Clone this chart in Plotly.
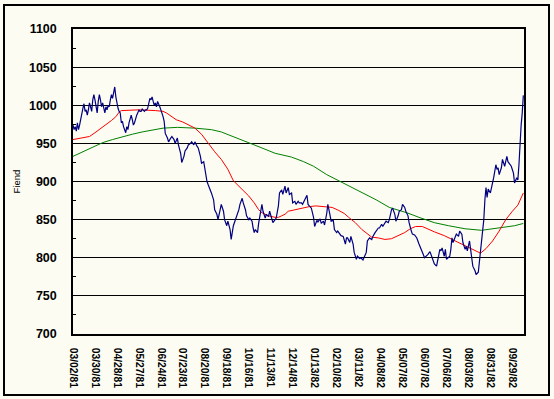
import plotly.graph_objects as go

# ---------------- data ----------------
tick_labels = ["03/02/81", "03/30/81", "04/28/81", "05/27/81", "06/24/81", "07/23/81",
               "08/20/81", "09/18/81", "10/16/81", "11/13/81", "12/14/81", "01/13/82",
               "02/10/82", "03/11/82", "04/08/82", "05/07/82", "06/07/82", "07/06/82",
               "08/03/82", "08/31/82", "09/29/82"]
tick_step = 20          # trading days between date labels
last_day = 410.6        # right edge of the plot, in trading days

blue_days = [0, 1, 2, 3, 4, 5, 6, 7, 8, 9, 10, 11, 12, 13, 14, 15, 16, 17, 18, 19, 20,
             21, 22, 23, 24, 25, 26, 27, 28, 29, 30, 31, 32, 33, 34, 35, 36, 37, 38, 39, 40,
             41, 42, 43, 44, 45, 46, 47, 48, 49, 50, 51, 52, 53, 54, 55, 56, 57, 58, 59, 60,
             61, 62, 63, 64, 65, 66, 67, 68, 69, 70, 71, 72, 73, 74, 75, 76, 77, 78, 79, 80,
             81, 82, 83, 84, 86, 87, 89, 90, 92, 93, 95, 96, 98, 99, 101, 102, 104, 105, 107,
             108, 110, 111, 113, 114, 116, 117, 119, 120, 122, 123, 125, 126, 128, 129, 131,
             132, 134, 135, 137, 138, 140, 141, 143, 144, 146, 148, 149, 151, 152, 154, 155,
             157, 158, 160, 161, 163, 164, 165, 166, 168, 169, 170, 172, 173, 175, 176, 178,
             179, 181, 182, 184, 185, 187, 188, 190, 191, 193, 194, 196, 197, 199, 200, 202,
             203, 205, 206, 208, 209, 211, 213, 214, 216, 217, 219, 220, 222, 223, 225, 226,
             228, 229, 231, 232, 234, 235, 237, 238, 240, 241, 243, 244, 246, 248, 249, 250,
             252, 253, 255, 256, 258, 259, 261, 262, 264, 265, 267, 268, 270, 272, 273, 275,
             276, 278, 279, 281, 282, 284, 285, 287, 288, 290, 291, 293, 294, 296, 297, 299,
             300, 302, 303, 305, 306, 308, 309, 311, 313, 315, 317, 319, 320, 322, 323, 325,
             326, 328, 329, 331, 332, 334, 335, 336, 338, 339, 340, 342, 343, 344, 345, 346,
             348, 349, 351, 352, 354, 355, 357, 358, 359, 360, 361, 362, 363, 364, 366, 367,
             369, 370, 371, 372, 374, 375, 376, 377, 378, 380, 381, 382, 383, 385, 386, 387,
             388, 390, 391, 393, 395, 396, 398, 399, 401, 402, 404, 405, 406, 407, 408, 409,
             410]
blue_vals = [974, 968, 972, 966, 977, 968, 974, 983, 990, 996, 1002, 992, 994, 987, 994,
             1003, 998, 992, 1007, 1014, 1007, 998, 990, 1005, 1014, 1007, 998, 1003, 996,
             990, 998, 994, 1000, 998, 1007, 1014, 1009, 1020, 1024, 1011, 1000, 996, 992,
             990, 977, 979, 972, 966, 964, 972, 968, 977, 981, 987, 981, 974, 977, 983, 987,
             990, 994, 992, 992, 995, 994, 992, 994, 994, 996, 1005, 1009, 1007, 1011, 1005,
             1000, 1003, 998, 1005, 1000, 998, 994,
             990, 985, 979, 963, 957, 952, 957, 959, 955, 950, 957, 948, 937, 925, 933, 940,
             944, 948, 950, 952, 948, 952, 946, 944, 933, 924, 926, 915, 900, 896, 890, 885,
             876, 863, 857, 850, 863, 870, 861, 850, 842, 848, 837, 824, 842, 850, 855, 863,
             870, 878, 872, 863, 855, 850, 852, 848, 839, 833, 837, 833, 845, 855, 870, 861,
             852, 857, 854, 861, 850, 846, 850, 852, 868, 885, 889, 883, 894, 885, 892, 883,
             885, 872, 874, 870, 874, 872, 872, 870, 876, 882, 870, 867, 865, 853, 841, 849,
             847, 851, 845, 848, 843, 858, 870, 856, 848, 849, 837, 833, 835, 831, 829, 828,
             818, 826, 826, 820, 828, 818, 807, 798, 802, 799, 800, 797, 800, 807, 822, 826,
             824, 828, 833, 835, 839, 839, 844, 841, 846, 848, 846, 850, 863, 865, 857, 848,
             855, 861, 863, 870, 866, 861, 855, 846, 835, 831, 830, 826, 818, 812, 804, 800,
             802, 804, 808, 804, 797, 792, 789, 795, 811, 809, 813, 802, 811, 798, 800, 802,
             811, 826, 820, 828, 831, 828, 835, 831, 820, 811, 815, 809, 818, 822, 811, 798,
             789, 783, 778, 781, 796, 807, 828, 850, 876, 892, 879, 890, 885, 892, 896, 905,
             922, 916, 918, 909, 918, 929, 920, 933, 926, 922, 920, 911, 898, 905, 902, 922,
             955, 974, 990, 1013]

red_days = [0, 8, 15, 20, 25, 30, 35, 39, 42, 44, 60, 75, 82, 85, 88, 94, 100, 105, 111,
            117, 123, 129, 135, 141, 146, 154, 160, 165, 169, 172, 175, 178, 184, 187, 190,
            193, 196, 202, 210, 215, 221, 230, 236, 242, 247, 251, 257, 263, 268, 272, 278,
            284, 290, 296, 302, 307, 312, 318, 324, 329, 338, 348, 357, 366, 371, 376, 382,
            388, 394, 400, 405, 410]
red_vals = [955, 957, 959, 964, 969, 975, 980, 985, 991, 993, 994, 993, 992, 990, 987, 981,
            978, 974, 970, 962, 950, 939, 929, 916, 901, 889, 881, 872, 863, 859, 857, 855,
            853, 853, 855, 857, 861, 863, 865, 867, 868, 867, 866, 862, 858, 853, 846, 837,
            831, 827, 826, 824, 825, 829, 833, 838, 841, 841, 837, 834, 829, 822, 815, 809,
            806, 812, 822, 835, 850, 861, 869, 885]

green_days = [0, 9, 18, 27, 36, 45, 54, 63, 72, 82, 95, 111, 126, 135, 142, 152, 160, 165,
              172, 184, 199, 210, 219, 231, 246, 261, 276, 288, 304, 315, 329, 342, 357,
              372, 387, 402, 410]
green_vals = [933, 939, 946, 951, 955, 959, 962, 965, 967, 970, 971, 970, 968, 965, 961,
              955, 951, 948, 944, 937, 932, 926, 920, 909, 898, 887, 876, 866, 859, 853,
              846, 842, 838, 836, 839, 842, 845]

y_min, y_max, y_step = 700, 1100, 50

# ---------------- figure ----------------
bg = "#fcfcf3"
fig = go.Figure()
fig.add_trace(go.Scatter(x=green_days, y=green_vals, mode="lines",
                         line=dict(color="#008000", width=1), hoverinfo="skip"))
fig.add_trace(go.Scatter(x=red_days, y=red_vals, mode="lines",
                         line=dict(color="#ff0000", width=1), hoverinfo="skip"))
fig.add_trace(go.Scatter(x=blue_days, y=blue_vals, mode="lines",
                         line=dict(color="#000080", width=1.2), hoverinfo="skip"))

tick_vals = [i * tick_step for i in range(len(tick_labels))]

fig.update_layout(
    width=554, height=399,
    margin=dict(l=73, r=30, t=29, b=65, autoexpand=False),
    paper_bgcolor=bg, plot_bgcolor=bg,
    showlegend=False,
    font=dict(family="Liberation Sans, Arial, sans-serif", color="black"),
    xaxis=dict(
        range=[0, last_day], tickvals=tick_vals, ticktext=tick_labels,
        tickangle=90, showgrid=False, zeroline=False, automargin=False,
        showline=True, linecolor="black", linewidth=1.5, mirror=True,
        ticks="", ticklabelstandoff=10,
        tickfont=dict(size=10.3, weight="bold"),
    ),
    yaxis=dict(
        range=[y_min, y_max], dtick=y_step, tick0=y_min, automargin=False,
        showgrid=True, gridcolor="black", gridwidth=1.2,
        zeroline=False, showline=True, linecolor="black", linewidth=1.5, mirror=True,
        ticks="", ticklabelstandoff=12,
        tickfont=dict(size=12.5, weight="bold"),
        minor=dict(dtick=y_step / 2, ticks="inside", ticklen=3, tickcolor="black",
                   showgrid=False),
    ),
    shapes=[dict(type="rect", xref="paper", yref="paper",
                 x0=(4 - 73) / 451.0, x1=(549 - 73) / 451.0,
                 y0=-(395 - 334) / 305.0, y1=1 + (29 - 5) / 305.0,
                 line=dict(color="black", width=2), fillcolor="rgba(0,0,0,0)",
                 layer="below")],
    annotations=[dict(text="Fiend", xref="paper", yref="paper",
                      x=(16 - 73) / 451.0, y=0.5, xanchor="center", yanchor="middle",
                      textangle=-90, showarrow=False,
                      font=dict(size=9.5, color="black"))],
)

fig.write_html("out.html", config={"displayModeBar": False},
               post_script="document.body.style.margin='0';document.body.style.overflow='hidden';")
